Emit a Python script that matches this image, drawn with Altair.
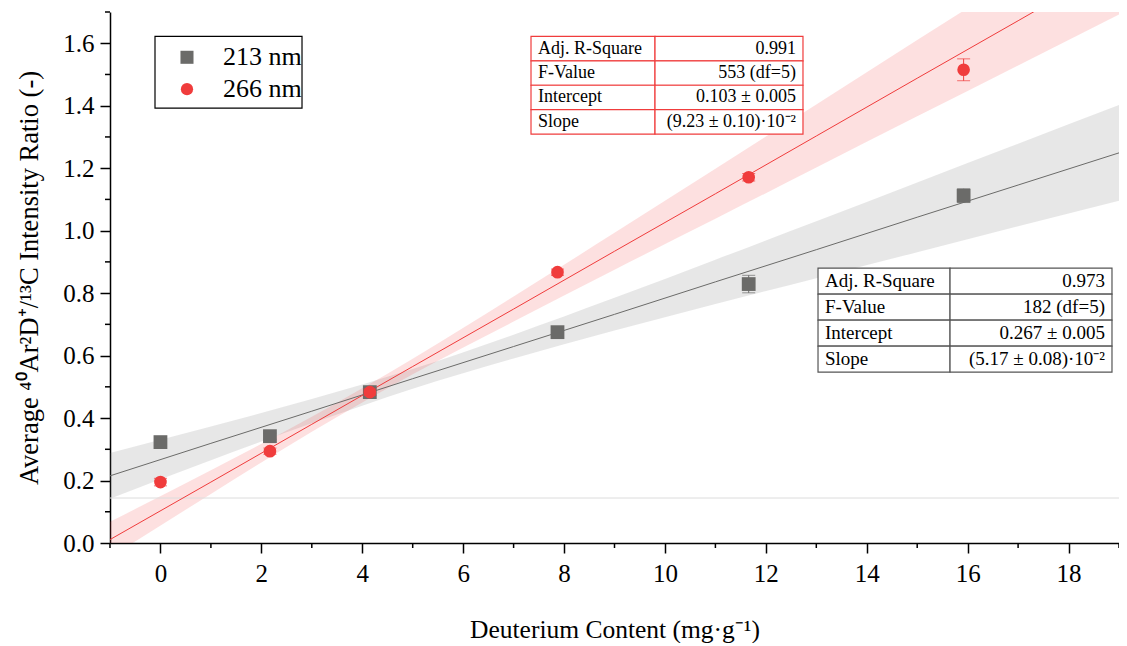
import altair as alt
import pandas as pd

# ---------------- data ----------------
series = ["213 nm", "266 nm"]
content = [0.0, 2.17, 4.15, 7.87, 11.66, 15.92]
ratio_213 = [0.323, 0.342, 0.483, 0.675, 0.829, 1.112]
err_213 = [0.010, 0.010, 0.010, 0.010, 0.028, 0.022]
ratio_266 = [0.195, 0.294, 0.483, 0.867, 1.171, 1.515]
err_266 = [0.012, 0.010, 0.010, 0.010, 0.012, 0.035]

fit_x = [-1, 1, 3, 5, 7, 9, 11, 13, 15, 17, 19]
fit_213 = [0.215, 0.319, 0.422, 0.526, 0.629, 0.732, 0.836, 0.939, 1.043, 1.146, 1.249]
band_hi_213 = [0.288, 0.373, 0.461, 0.557, 0.667, 0.785, 0.907, 1.030, 1.154, 1.278, 1.402]
band_lo_213 = [0.142, 0.265, 0.383, 0.494, 0.591, 0.680, 0.765, 0.848, 0.931, 1.014, 1.096]
fit_266 = [0.011, 0.195, 0.380, 0.565, 0.749, 0.934, 1.118, 1.303, 1.488, 1.672, 1.857]
band_hi_266 = [0.068, 0.233, 0.404, 0.590, 0.789, 0.993, 1.198, 1.404, 1.610, 1.815, 2.022]
band_lo_266 = [-0.046, 0.157, 0.356, 0.540, 0.709, 0.875, 1.038, 1.202, 1.366, 1.529, 1.692]

stat_labels = ["Adj. R-Square", "F-Value", "Intercept", "Slope"]
stats_266 = ["0.991", "553 (df=5)", "0.103 \u00b1 0.005", "(9.23 \u00b1 0.10)\u00b710\u207b\u00b2"]
stats_213 = ["0.973", "182 (df=5)", "0.267 \u00b1 0.005", "(5.17 \u00b1 0.08)\u00b710\u207b\u00b2"]

faint_line_y = [0.144]

x_major = [0, 2, 4, 6, 8, 10, 12, 14, 16, 18]
x_minor = [-1, 1, 3, 5, 7, 9, 11, 13, 15, 17, 19]
y_major = [0.0, 0.2, 0.4, 0.6, 0.8, 1.0, 1.2, 1.4, 1.6]
y_minor = [0.1, 0.3, 0.5, 0.7, 0.9, 1.1, 1.3, 1.5, 1.7]

# ---------------- styling ----------------
FONT = "Liberation Serif"
GRAY = "#6b6b69"
RED = "#f03c3c"
XTITLE = "Deuterium Content (mg\u00b7g\u207b\u00b9)"
YTITLE = "Average \u2074\u2070Ar\u00b2D\u207a/\u00b9\u00b3C Intensity Ratio (-)"
W, H = 1009, 531

xs = alt.Scale(domain=[-1, 19], nice=False, zero=False)
ys = alt.Scale(domain=[0, 1.7], nice=False, zero=False)

x_axis = alt.Axis(
    values=x_major, format="d", tickSize=10,
    grid=False, domainColor="black", domainWidth=1.5, tickColor="black", tickWidth=1.5,
    labelFont=FONT, labelFontSize=25, labelColor="black", labelPadding=8,
    titleFont=FONT, titleFontSize=25.5, titleFontWeight="normal", titleColor="black", titlePadding=31,
)
y_axis = alt.Axis(
    values=y_major, format=".1f", tickSize=10,
    grid=False, domainColor="black", domainWidth=1.5, tickColor="black", tickWidth=1.5,
    labelFont=FONT, labelFontSize=25, labelColor="black", labelPadding=6,
    titleFont=FONT, titleFontSize=26.5, titleFontWeight="normal", titleColor="black", titlePadding=19,
)


def X(field):
    return alt.X(field, type="quantitative", scale=xs, axis=x_axis, title=XTITLE)


def Y(field):
    return alt.Y(field, type="quantitative", scale=ys, axis=y_axis, title=YTITLE)


color_scale = alt.Scale(domain=series, range=[GRAY, RED])
shape_scale = alt.Scale(domain=series, range=["square", "circle"])

# ---------------- frames ----------------
pts = pd.DataFrame({
    "content": content * 2,
    "ratio": ratio_213 + ratio_266,
    "err": err_213 + err_266,
    "series": [series[0]] * len(content) + [series[1]] * len(content),
})
pts["lo"] = pts["ratio"] - pts["err"]
pts["hi"] = pts["ratio"] + pts["err"]

fit = pd.DataFrame({
    "fx": fit_x * 2,
    "fy": fit_213 + fit_266,
    "blo": band_lo_213 + band_lo_266,
    "bhi": band_hi_213 + band_hi_266,
    "series": [series[0]] * len(fit_x) + [series[1]] * len(fit_x),
})

col = alt.Color("series:N", scale=color_scale, legend=None)

bands = alt.Chart(fit).mark_area(clip=True, opacity=0.16, interpolate="monotone").encode(
    x=X("fx"), y=Y("blo"), y2="bhi", color=col, detail="series:N"
)
lines = alt.Chart(fit).mark_line(clip=True, strokeWidth=1).encode(
    x=X("fx"), y=Y("fy"), color=col, detail="series:N"
)
faint = alt.Chart(pd.DataFrame({"fy": faint_line_y})).mark_rule(color="#dcdcdc", strokeWidth=1).encode(
    y=Y("fy")
)
minor_x = alt.Chart(pd.DataFrame({"mx": x_minor})).mark_rule(color="black", strokeWidth=1.5).encode(
    x=X("mx"), y=alt.value(H), y2=alt.value(H + 5)
)
minor_y = alt.Chart(pd.DataFrame({"my": y_minor})).mark_rule(color="black", strokeWidth=1.5).encode(
    y=Y("my"), x=alt.value(0), x2=alt.value(-5)
)

layers = [bands, faint, lines, minor_x, minor_y]
for s, size in [(series[0], 190), (series[1], 160)]:
    d = pts[pts["series"] == s]
    base = alt.Chart(d)
    layers.append(base.mark_rule(strokeWidth=1).encode(x=X("content"), y=Y("lo"), y2="hi", color=col))
    layers.append(base.mark_tick(orient="horizontal", size=13, thickness=1).encode(x=X("content"), y=Y("lo"), color=col))
    layers.append(base.mark_tick(orient="horizontal", size=13, thickness=1).encode(x=X("content"), y=Y("hi"), color=col))
    layers.append(base.mark_point(filled=True, opacity=1, size=size).encode(
        x=X("content"), y=Y("ratio"), color=col, shape=alt.Shape("series:N", scale=shape_scale, legend=None)
    ))


# ---------------- statistics tables (annotation boxes) ----------------
def table(x0, xm, x1, ytop, ybot, labels, values, stroke, fsize):
    n = len(labels)
    step = (ytop - ybot) / n
    cells, texts = [], []
    for i, (lab, val) in enumerate(zip(labels, values)):
        yhi = ytop - i * step
        ylo = yhi - step
        cells.append({"a": x0, "b": xm, "c": ylo, "d": yhi})
        cells.append({"a": xm, "b": x1, "c": ylo, "d": yhi})
        texts.append({"tx": x0, "ty": (ylo + yhi) / 2, "t": lab, "side": "L"})
        texts.append({"tx": x1, "ty": (ylo + yhi) / 2, "t": val, "side": "R"})
    cdf = pd.DataFrame(cells)
    tdf = pd.DataFrame(texts)
    box = alt.Chart(cdf).mark_rect(fill="white", stroke=stroke, strokeWidth=1.2).encode(
        x=X("a"), x2="b", y=Y("c"), y2="d"
    )
    left = alt.Chart(tdf[tdf.side == "L"]).mark_text(
        align="left", baseline="middle", dx=7, font=FONT, fontSize=fsize, color="black"
    ).encode(x=X("tx"), y=Y("ty"), text="t:N")
    right = alt.Chart(tdf[tdf.side == "R"]).mark_text(
        align="right", baseline="middle", dx=-7, font=FONT, fontSize=fsize, color="black"
    ).encode(x=X("tx"), y=Y("ty"), text="t:N")
    return [box, left, right]


layers += table(7.345, 9.803, 12.736, 1.622, 1.309, stat_labels, stats_266, RED, 18)
layers += table(13.034, 15.651, 18.861, 0.880, 0.547, stat_labels, stats_213, "#555555", 19)

# ---------------- legend box ----------------
leg_box = pd.DataFrame({"a": [-0.108], "b": [2.806], "c": [1.392], "d": [1.622]})
leg_items = pd.DataFrame({"lx": [0.526, 0.526], "tx": [1.24, 1.24], "ly": [1.555, 1.453], "series": series})
layers.append(alt.Chart(leg_box).mark_rect(fill="white", stroke="black", strokeWidth=1.2).encode(
    x=X("a"), x2="b", y=Y("c"), y2="d"))
layers.append(alt.Chart(leg_items[leg_items.series == series[0]]).mark_point(filled=True, opacity=1, size=170).encode(
    x=X("lx"), y=Y("ly"), color=col, shape=alt.Shape("series:N", scale=shape_scale, legend=None)))
layers.append(alt.Chart(leg_items[leg_items.series == series[1]]).mark_point(filled=True, opacity=1, size=150).encode(
    x=X("lx"), y=Y("ly"), color=col, shape=alt.Shape("series:N", scale=shape_scale, legend=None)))
layers.append(alt.Chart(leg_items).mark_text(align="left", baseline="middle", font=FONT, fontSize=26, color="black").encode(
    x=X("tx"), y=Y("ly"), text="series:N"))

chart = alt.layer(*layers).properties(
    width=W, height=H,
    autosize="none",
    padding={"left": 102, "top": 4, "right": 0, "bottom": 100},
).configure_view(stroke=None)

chart.save("out.html", embed_options={"renderer": "svg", "actions": False})
